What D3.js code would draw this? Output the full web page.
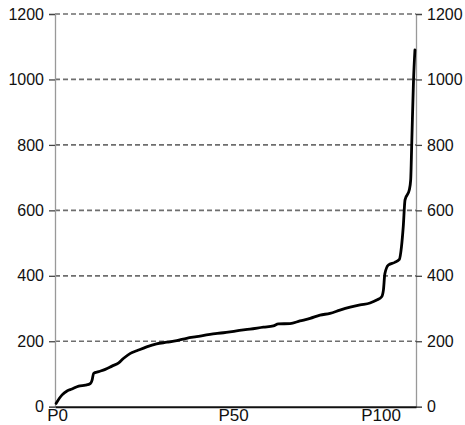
<!DOCTYPE html>
<html>
<head>
<meta charset="utf-8">
<script src="https://cdn.jsdelivr.net/npm/d3@7"></script>
<style>
  html, body { margin: 0; padding: 0; background: #fff; }
  svg { display: block; }
  text { font-family: "Liberation Sans", Arial, sans-serif; fill: #111; }
</style>
</head>
<body>
<svg id="chart" width="465" height="425"></svg>
<script>
// ---- data ----
const rank = [0.3, 2.0, 3.4, 4.8, 6.7, 8.6, 10.0, 10.5, 10.9, 12.3, 14.2, 16.1, 18.0, 19.4, 21.3,
  23.1, 25.9, 28.7, 31.6, 34.4, 37.2, 40.0, 43.8, 47.6, 51.3, 55.1, 58.9, 61.7, 63.1, 66.4,
  69.2, 72.1, 74.9, 77.7, 80.5, 83.4, 86.2, 89.0, 90.9, 92.3, 92.8, 93.2, 94.2, 96.0, 97.3,
  97.9, 98.4, 98.9, 100.1, 100.5, 100.8, 101.3, 101.7];
const values = [10, 36, 48, 54, 63, 66, 71, 82, 102, 107, 114, 124, 134, 148, 163,
  171, 183, 192, 197, 202, 209, 214, 221, 226, 232, 237, 243, 247, 253, 254,
  262, 270, 280, 285, 295, 304, 311, 317, 326, 336, 357, 406, 433, 441, 450,
  489, 550, 632, 662, 693, 805, 998, 1090];
const xTickPos = [0.6, 50.3, 92.0];
const xTickLabels = ["P0", "P50", "P100"];
const yTicks = [0, 200, 400, 600, 800, 1000, 1200];

// ---- layout ----
const mLeft = 55, mRight = 416, mTop = 14, mBottom = 406.7;
const svg = d3.select("#chart");

const x = d3.scaleLinear().domain([0, 102]).range([mLeft, mRight]);
const y = d3.scaleLinear().domain([0, 1200]).range([mBottom, mTop]);

// gridlines (dashed)
svg.append("g")
  .selectAll("line")
  .data(yTicks.filter(d => d > 0))
  .join("line")
  .attr("x1", mLeft).attr("x2", mRight)
  .attr("y1", d => y(d)).attr("y2", d => y(d))
  .attr("stroke", "#6e6e6e")
  .attr("stroke-width", 1.7)
  .attr("stroke-dasharray", "5,3");

// left axis
const yAxisL = d3.axisLeft(y).tickValues(yTicks).tickSize(6).tickPadding(5).tickFormat(d3.format("d"));
const gl = svg.append("g").attr("transform", `translate(${mLeft},0)`).call(yAxisL);
gl.select(".domain").attr("stroke", "#999").attr("stroke-width", 1.3);
gl.selectAll(".tick line").attr("stroke", "#444").attr("stroke-width", 1.3);
gl.selectAll(".tick text").attr("font-size", "16px").attr("fill", "#000").attr("font-family", "Liberation Sans, Arial, sans-serif");

// right axis
const yAxisR = d3.axisRight(y).tickValues(yTicks).tickSize(6).tickPadding(5).tickFormat(d3.format("d"));
const gr = svg.append("g").attr("transform", `translate(${mRight},0)`).call(yAxisR);
gr.select(".domain").attr("stroke", "#999").attr("stroke-width", 1.3);
gr.selectAll(".tick line").attr("stroke", "#444").attr("stroke-width", 1.3);
gr.selectAll(".tick text").attr("font-size", "16px").attr("fill", "#000").attr("font-family", "Liberation Sans, Arial, sans-serif");

// bottom axis
const xAxis = d3.axisBottom(x).tickValues(xTickPos).tickSize(0).tickPadding(2)
  .tickFormat((d, i) => xTickLabels[i]);
const gb = svg.append("g").attr("transform", `translate(0,${mBottom})`).call(xAxis);
gb.select(".domain").attr("stroke", "#111").attr("stroke-width", 2);
gb.selectAll(".tick text").attr("font-size", "17px").attr("fill", "#000").attr("font-family", "Liberation Sans, Arial, sans-serif");

// line
const pts = rank.map((r, i) => [r, values[i]]);
svg.append("path")
  .datum(pts)
  .attr("fill", "none")
  .attr("stroke", "#000")
  .attr("stroke-width", 2.8)
  .attr("stroke-linejoin", "round")
  .attr("stroke-linecap", "round")
  .attr("d", d3.line().x(d => x(d[0])).y(d => y(d[1])).curve(d3.curveMonotoneX));
</script>
</body>
</html>
